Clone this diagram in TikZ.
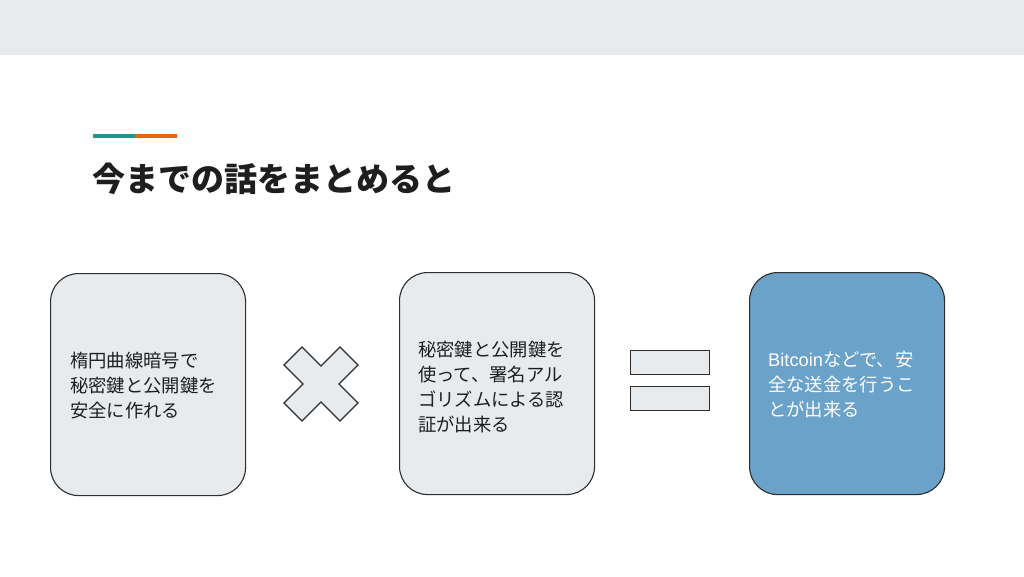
\documentclass[tikz,border=0pt]{standalone}
\usepackage{fontspec}
\usetikzlibrary{calc}
\setmainfont{Noto Sans CJK JP}
\newfontfamily\lat{Liberation Sans}
\definecolor{band}{HTML}{E8EBEC}
\definecolor{boxgray}{HTML}{E8EBED}
\definecolor{boxblue}{HTML}{6AA2CA}
\definecolor{teal}{HTML}{21978B}
\definecolor{orng}{HTML}{E8630E}
\definecolor{edge}{HTML}{2E2E2E}
\definecolor{titlec}{HTML}{1E1E1E}
\tikzset{
  x=1pt,y=-1pt,
  card/.style={draw=edge,line width=1.1pt,rounded corners=28pt,minimum width=195pt,minimum height=222pt,inner sep=0pt,anchor=north west},
  cardtext/.style={anchor=west,align=left,inner sep=0pt,font=\fontsize{18.3}{25}\selectfont,text=titlec},
  symb/.style={draw=edge,line width=1.1pt,fill=boxgray},
}
\begin{document}
\begin{tikzpicture}
\useasboundingbox (0,0) rectangle (1024,576);
\fill[white] (0,0) rectangle (1024,576);
\fill[band] (0,0) rectangle (1024,54.5);
% accent
\fill[teal] (93,133.5) rectangle (135,138);
\fill[orng] (135,133.5) rectangle (177,138);
% title
\node[anchor=base west,inner sep=0pt,font=\fontsize{33}{40}\selectfont\bfseries,text=titlec] (title) at (92,191) {今までの話をまとめると};
% cards
\node[card,fill=boxgray] (c1) at (50,273) {};
\node[card,fill=boxgray] (c2) at (399,272) {};
\node[card,fill=boxblue] (c3) at (749,272) {};
\node[cardtext] (t1) at ([xshift=20pt,yshift=-1pt]c1.west) {楕円曲線暗号で\\秘密鍵と公開鍵を\\安全に作れる};
\node[cardtext] (t2) at ([xshift=19pt,yshift=-3pt]c2.west) {秘密鍵と公開鍵を\\使って、署名アル\\ゴリズムによる認\\証が出来る};
\node[cardtext,text=white] (t3) at ([xshift=19pt,yshift=-1pt]c3.west) {{\lat Bitcoin}などで、安\\全な送金を行うこ\\とが出来る};
% multiply sign
\coordinate (m) at (321,384);
\draw[symb,line join=miter] ($(m)+(-37,-19)$) -- ($(m)+(-19,-37)$) -- ($(m)+(0,-18)$) -- ($(m)+(19,-37)$) -- ($(m)+(37,-19)$) -- ($(m)+(18,0)$) -- ($(m)+(37,19)$) -- ($(m)+(19,37)$) -- ($(m)+(0,18)$) -- ($(m)+(-19,37)$) -- ($(m)+(-37,19)$) -- ($(m)+(-18,0)$) -- cycle;
% equals sign
\node[symb,minimum width=79pt,minimum height=23.5pt,inner sep=0pt,anchor=north west] (e1) at (630,350) {};
\node[symb,minimum width=79pt,minimum height=23.5pt,inner sep=0pt,anchor=north west] (e2) at (630,386) {};
\end{tikzpicture}
\end{document}
